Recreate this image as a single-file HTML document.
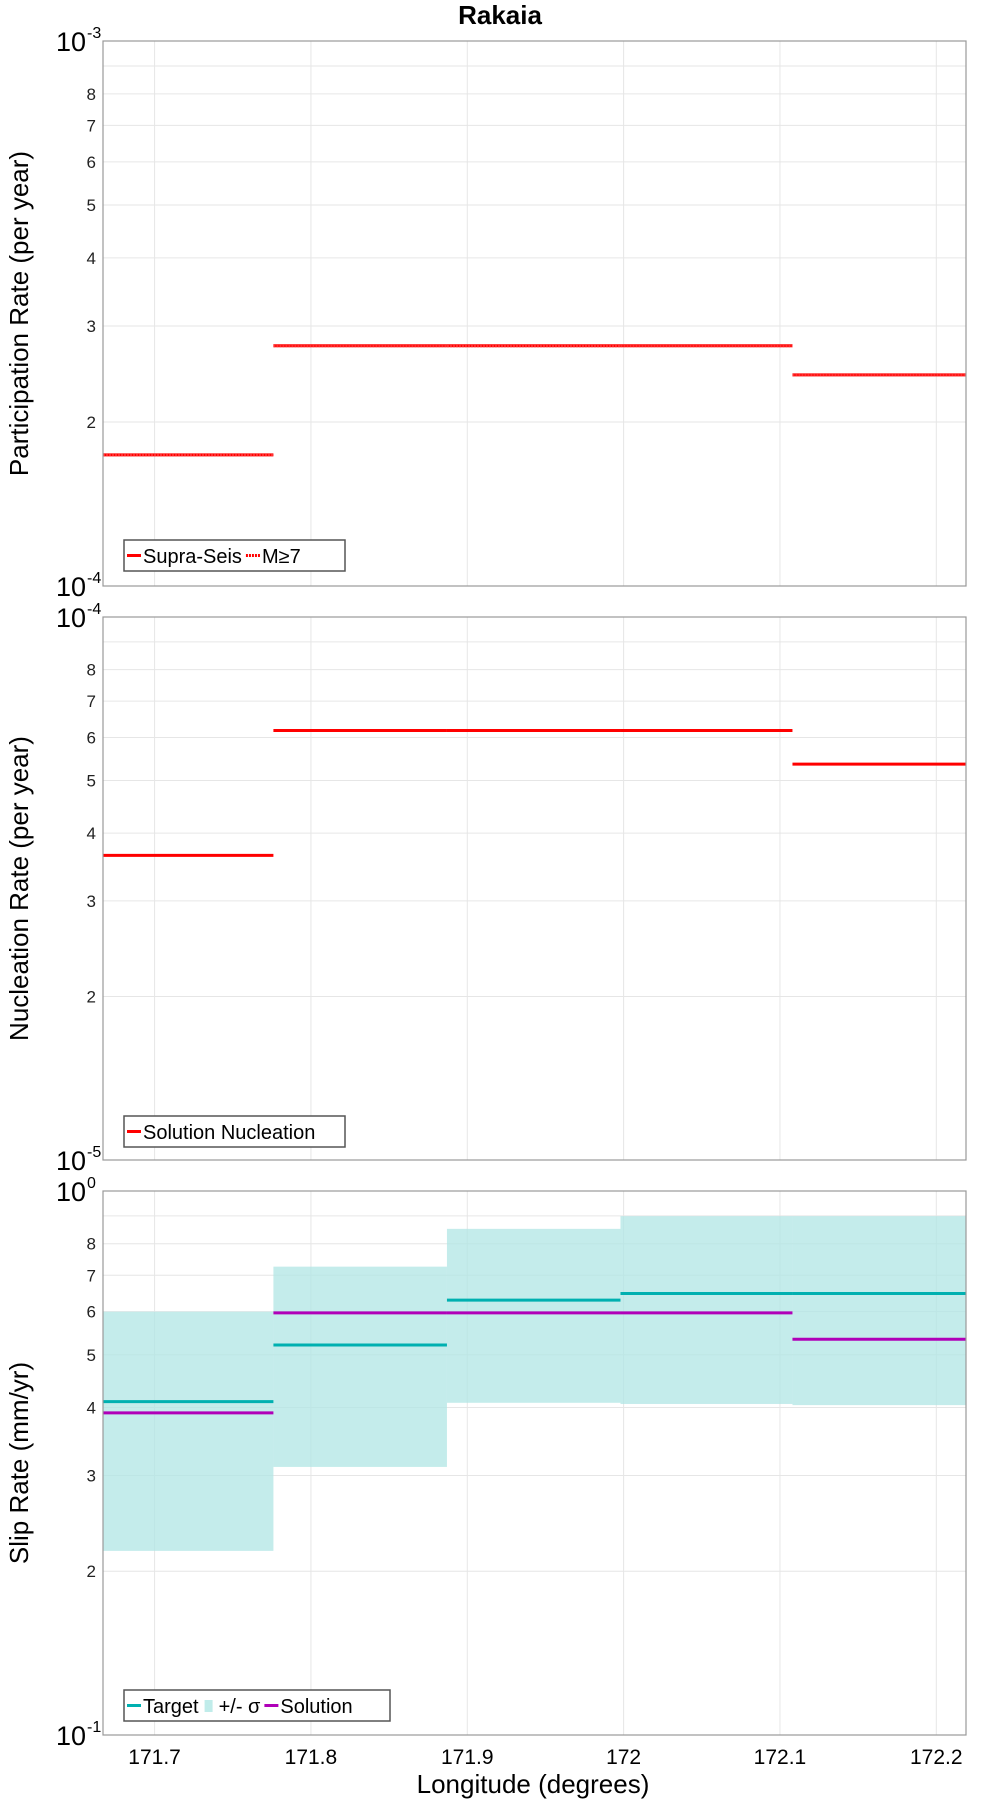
<!DOCTYPE html>
<html><head><meta charset="utf-8"><style>
html,body{margin:0;padding:0;background:#fff;width:1000px;height:1800px;overflow:hidden}
svg{display:block;font-family:"Liberation Sans",sans-serif}
</style></head><body>
<svg id="chart" width="1000" height="1800" viewBox="0 0 1000 1800">
<text x="500" y="24" text-anchor="middle" font-size="26" font-weight="bold">Rakaia</text>
<text x="533" y="1793" text-anchor="middle" font-size="26">Longitude (degrees)</text>
</svg>
<script>
const xEdges = [171.667, 171.776, 171.887, 171.998, 172.108, 172.219];
const xTicks = [171.7, 171.8, 171.9, 172.0, 172.1, 172.2];
const xTickLabels = ["171.7", "171.8", "171.9", "172", "172.1", "172.2"];
const partRates = [1.74e-4, 2.76e-4, 2.76e-4, 2.76e-4, 2.44e-4];
const m7Rates = [1.74e-4, 2.76e-4, 2.76e-4, 2.76e-4, 2.44e-4];
const nuclRates = [3.64e-5, 6.18e-5, 6.18e-5, 6.18e-5, 5.36e-5];
const slipTarget = [0.410, 0.521, 0.630, 0.648, 0.648];
const slipSolution = [0.391, 0.597, 0.597, 0.597, 0.534];
const slipHigh = [0.600, 0.726, 0.852, 0.899, 0.899];
const slipLow = [0.218, 0.311, 0.408, 0.406, 0.404];
const minorTicks = [2, 3, 4, 5, 6, 7, 8, 9];

const svg = document.getElementById('chart');
const NS = 'http://www.w3.org/2000/svg';
const L = 103, R = 966;
function el(tag, attrs, parent) {
  const e = document.createElementNS(NS, tag);
  for (const k in attrs) e.setAttribute(k, attrs[k]);
  (parent || svg).appendChild(e);
  return e;
}
function xs(v) { return L + (v - xEdges[0]) / (xEdges[5] - xEdges[0]) * (R - L); }

function panel(name, top, bottom, expLo, yTitle) {
  const g = el('g', {});
  
  
  const ys = v => bottom - (Math.log10(v) - expLo) * (bottom - top);
  const lo = Math.pow(10, expLo);
  minorTicks.forEach(m => {
    const y = ys(m * lo);
    const gl = el('line', {x1: L, x2: R, y1: y, y2: y, stroke: '#e6e6e6', 'stroke-width': 1}, g);
    
    
    if (m < 9) {
      const t = el('text', {x: 96, y: y + 6, 'text-anchor': 'end', 'font-size': 17, fill: '#222'}, g);
      t.textContent = m;
      
      
    }
  });
  xTicks.forEach(v => {
    const x = xs(v);
    const gl = el('line', {x1: x, x2: x, y1: top, y2: bottom, stroke: '#e6e6e6', 'stroke-width': 1}, g);
    
    
  });
  [[expLo + 1, top], [expLo, bottom]].forEach(([e, y]) => {
    const t = el('text', {x: 86, y: y + 10, 'text-anchor': 'end', 'font-size': 27}, g);
    t.textContent = '10';
    
    
    const s = el('text', {x: 87, y: y - 3, 'font-size': 16}, g);
    s.textContent = e;
    
    
  });
  const yt = el('text', {x: 0, y: 0, 'text-anchor': 'middle', 'font-size': 26, transform: `translate(28 ${(top + bottom) / 2}) rotate(-90)`}, g);
  yt.textContent = yTitle;
  
  
  return {g, ys, top, bottom};
}
function frame(p) {
  const f = el('rect', {x: L, y: p.top, width: R - L, height: p.bottom - p.top, fill: 'none', stroke: '#999', 'stroke-width': 1.2}, p.g);
  
  
}
function steps(p, arr, color, name, dash) {
  arr.forEach((v, i) => {
    const y = p.ys(v);
    const a = {x1: xs(xEdges[i]), x2: xs(xEdges[i + 1]), y1: y, y2: y, stroke: color, 'stroke-width': 3};
    if (dash) a['stroke-dasharray'] = '2 1';
    const ln = el('line', a, p.g);
    
    
  });
}
function legend(p, x, y, w, items) {
  const lg = el('g', {}, p.g);
  
  
  el('rect', {x: x, y: y, width: w, height: 31, fill: '#fff', stroke: '#555', 'stroke-width': 1.5}, lg);
  let cx = x + 3;
  items.forEach(it => {
    if (it.box) el('rect', {x: cx + 2, y: y + 10, width: 8, height: 12, fill: it.color}, lg);
    else el('line', {x1: cx, x2: cx + 14, y1: y + 15.5, y2: y + 15.5, stroke: it.color, 'stroke-width': 3, 'stroke-dasharray': it.dash ? '2 1' : 'none'}, lg);
    const t = el('text', {x: cx + 16, y: y + 23, 'font-size': 20}, lg);
    t.textContent = it.label;
    
    
    cx += 16 + t.getComputedTextLength() + 4;
  });
}

const p1 = panel('participation-panel', 41, 586, -4, 'Participation Rate (per year)');
steps(p1, partRates, '#ff0000', 'supra-seis-step');
steps(p1, m7Rates, '#ff3030', 'm7-step', true);
frame(p1);
legend(p1, 124, 540, 221, [{label: 'Supra-Seis', color: '#ff0000'}, {label: 'M≥7', color: '#ff0000', dash: true}]);

const p2 = panel('nucleation-panel', 617, 1160, -5, 'Nucleation Rate (per year)');
steps(p2, nuclRates, '#ff0000', 'nucleation-step');
frame(p2);
legend(p2, 124, 1116, 221, [{label: 'Solution Nucleation', color: '#ff0000'}]);

const p3 = panel('slip-panel', 1191, 1735, -1, 'Slip Rate (mm/yr)');
slipHigh.forEach((h, i) => {
  const y1 = p3.ys(h), y2 = p3.ys(slipLow[i]);
  const r = el('rect', {x: xs(xEdges[i]), y: y1, width: xs(xEdges[i + 1]) - xs(xEdges[i]), height: y2 - y1, fill: '#b0e6e4', 'fill-opacity': 0.75}, p3.g);
  
  
});
steps(p3, slipTarget, '#00b0b0', 'target-step');
steps(p3, slipSolution, '#b000b8', 'solution-step');
frame(p3);
legend(p3, 124, 1690, 266, [{label: 'Target', color: '#00b0b0'}, {label: '+/- σ', color: '#c0ecea', box: true}, {label: 'Solution', color: '#b000b8'}]);

xTicks.forEach((v, i) => {
  const t = el('text', {x: xs(v), y: 1764, 'text-anchor': 'middle', 'font-size': 21});
  t.textContent = xTickLabels[i];
  
  
});
</script>
</body></html>
